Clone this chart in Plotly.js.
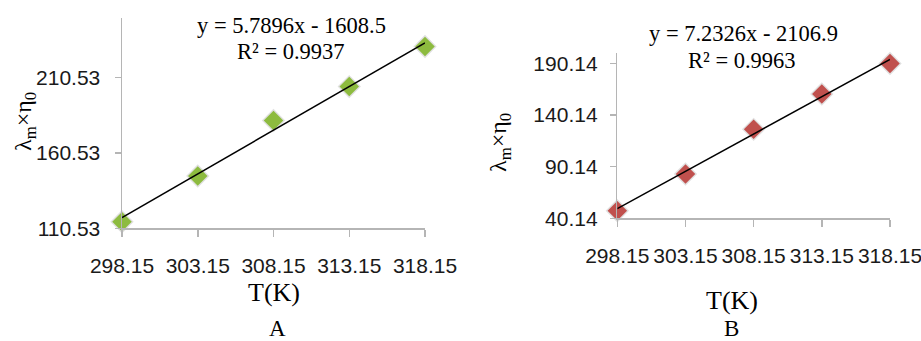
<!DOCTYPE html>
<html><head><meta charset="utf-8">
<script src="https://cdn.plot.ly/plotly-3.0.1.min.js"></script>
<style>html,body{margin:0;padding:0;background:#fff}#chart{width:921px;height:341px}</style>
</head><body><div id="chart"></div>
<script>
// ---- data ----
const temperatures = [298.15, 303.15, 308.15, 313.15, 318.15];
const valuesA = [114.9, 145.2, 182.0, 204.5, 231.1];
const valuesB = [47.5, 83.0, 126.3, 160.5, 190.1];
const slopeA = 5.7896, interceptA = -1608.5, r2A = 0.9937;
const slopeB = 7.2326, interceptB = -2106.9, r2B = 0.9963;
const panelLabels = ['A', 'B'];
const xTitle = 'T(K)';
const yTitle = 'λ<sub>m</sub>×η<sub>0</sub>';

const W = 921, H = 341;
const px = v => v / W, py = v => 1 - v / H;

function trend(slope, intercept) {
  const xs = [temperatures[0], temperatures[temperatures.length - 1]];
  return { x: xs, y: xs.map(x => slope * x + intercept) };
}
const tA = trend(slopeA, interceptA), tB = trend(slopeB, interceptB);

const green = '#8dbb3f', red = '#c0504d';
function pts(y, color, xa, ya) {
  return [
    { x: temperatures, y: y, xaxis: xa, yaxis: ya, mode: 'markers', type: 'scatter', cliponaxis: false,
      marker: { symbol: 'diamond', size: 18, color: 'rgba(0,0,0,0.12)', line: { width: 0 } }, hoverinfo: 'skip' },
    { x: temperatures, y: y, xaxis: xa, yaxis: ya, mode: 'markers', type: 'scatter', cliponaxis: false,
      marker: { symbol: 'diamond', size: 15, color: color, line: { width: 0 } } }
  ];
}
const traces = [
  ...pts(valuesA, green, 'x', 'y'),
  { x: tA.x, y: tA.y, xaxis: 'x', yaxis: 'y', mode: 'lines', type: 'scatter', cliponaxis: false, line: { color: '#000', width: 1.5 } },
  ...pts(valuesB, red, 'x2', 'y2'),
  { x: tB.x, y: tB.y, xaxis: 'x2', yaxis: 'y2', mode: 'lines', type: 'scatter', cliponaxis: false, line: { color: '#000', width: 1.5 } }
];

const tickFont = { family: 'Liberation Sans, Arial, sans-serif', size: 21, color: '#1a1a1a' };
const axisCommon = { showgrid: false, zeroline: false, showline: true, linecolor: '#b5b5b5', linewidth: 1.5,
  ticks: 'outside', tickcolor: '#b5b5b5', tickwidth: 1.5, tickfont: tickFont, tickformat: '.2f', fixedrange: true,
  ticklabeloverflow: 'allow' };

const layout = {
  width: W, height: H, margin: { l: 0, r: 0, t: 0, b: 0 }, showlegend: false,
  paper_bgcolor: '#fff', plot_bgcolor: '#fff',
  xaxis: { ...axisCommon, domain: [px(122), px(425)], range: [298.15, 318.15], tickmode: 'linear', tick0: 298.15, dtick: 5, ticklen: 7, ticklabelstandoff: 11, anchor: 'y' },
  yaxis: { ...axisCommon, domain: [py(228.3), py(18)], range: [110.53, 250], tickmode: 'linear', tick0: 110.53, dtick: 50, ticklen: 6, ticklabelstandoff: 10, anchor: 'x' },
  xaxis2: { ...axisCommon, domain: [px(617.3), px(890)], range: [298.15, 318.15], tickmode: 'linear', tick0: 298.15, dtick: 5, ticklen: 7, ticklabelstandoff: 11, anchor: 'y2' },
  yaxis2: { ...axisCommon, domain: [py(218.3), py(53.3)], range: [40.14, 200], tickmode: 'linear', tick0: 40.14, dtick: 50, ticklen: 6, ticklabelstandoff: 8, anchor: 'x2' },
  annotations: []
};

const serif = 'Liberation Serif, Times New Roman, serif';
function ann(text, x, y, size, extra) {
  layout.annotations.push(Object.assign({ text: text, x: px(x), y: py(y), xref: 'paper', yref: 'paper',
    xanchor: 'center', yanchor: 'middle', showarrow: false, font: { family: serif, size: size, color: '#000' } }, extra || {}));
}
const fmt = (s, i) => 'y = ' + s + 'x - ' + Math.abs(i);
ann(fmt(slopeA, interceptA), 291, 25, 22.5);
ann('R² = ' + r2A, 291, 52, 22.5);
ann(fmt(slopeB, interceptB), 743, 33, 22.5);
ann('R² = ' + r2B, 742, 60, 22.5);
ann(xTitle, 274, 292, 26);
ann(xTitle, 732, 300, 26);
ann(panelLabels[0], 277, 328, 23);
ann(panelLabels[1], 731, 328, 23);
ann(yTitle, 25, 122, 24, { textangle: -90 });
ann(yTitle, 500, 143, 24, { textangle: -90 });

Plotly.newPlot('chart', traces, layout, { displayModeBar: false, staticPlot: true });
</script>
</body></html>
